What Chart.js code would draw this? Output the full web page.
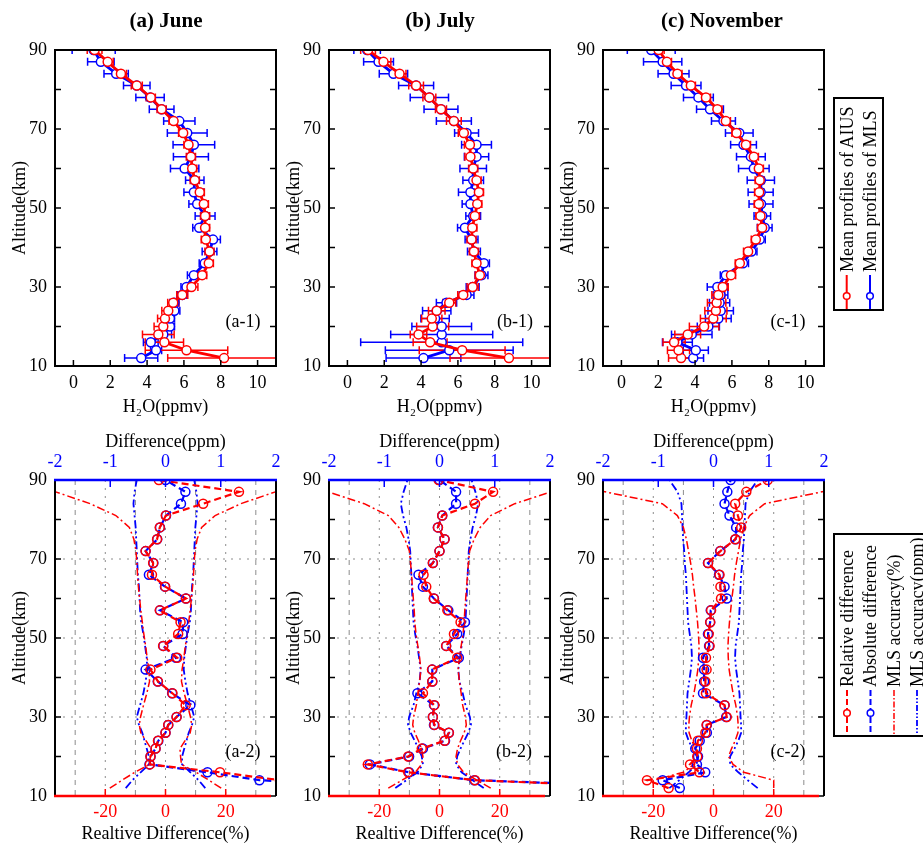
<!DOCTYPE html>
<html>
<head>
<meta charset="utf-8">
<script src="https://cdn.jsdelivr.net/npm/chart.js@4.4.1/dist/chart.umd.min.js"></script>
<style>
html,body{margin:0;padding:0;background:#fff;}
body{width:923px;height:847px;overflow:hidden;position:relative;font-family:'Liberation Serif','Times New Roman',serif;color:#000;}
canvas{position:absolute;}
.ttl{position:absolute;font-weight:bold;font-size:21px;transform:translate(-50%,-50%);white-space:nowrap;}
.plab{position:absolute;font-size:18px;transform:translate(-50%,-50%);white-space:nowrap;}
.rot{position:absolute;font-size:18px;line-height:20px;height:20px;white-space:nowrap;transform:rotate(-90deg);transform-origin:0 0;}
.box{position:absolute;border:2px solid #000;box-sizing:border-box;}
svg{position:absolute;}
</style>
</head>
<body>
<canvas id="a1" width="290" height="430" style="left:0px;top:0px"></canvas>
<canvas id="b1" width="290" height="430" style="left:274px;top:0px"></canvas>
<canvas id="c1" width="290" height="430" style="left:548px;top:0px"></canvas>
<canvas id="a2" width="290" height="427" style="left:0px;top:420px"></canvas>
<canvas id="b2" width="290" height="427" style="left:274px;top:420px"></canvas>
<canvas id="c2" width="290" height="427" style="left:548px;top:420px"></canvas>

<div class="ttl" style="left:166px;top:20px">(a) June</div>
<div class="ttl" style="left:440px;top:20px">(b) July</div>
<div class="ttl" style="left:722px;top:20px">(c) November</div>

<div class="plab" style="left:243px;top:321px">(a-1)</div>
<div class="plab" style="left:515px;top:321px">(b-1)</div>
<div class="plab" style="left:788px;top:321px">(c-1)</div>
<div class="plab" style="left:243px;top:751px">(a-2)</div>
<div class="plab" style="left:514px;top:751px">(b-2)</div>
<div class="plab" style="left:788px;top:751px">(c-2)</div>

<!-- legend 1 -->
<div class="box" style="left:833px;top:97px;width:51px;height:214px"></div>
<div class="rot" style="left:837px;top:272px">Mean profiles of AIUS</div>
<div class="rot" style="left:860px;top:272px">Mean profiles of MLS</div>
<svg style="left:833px;top:272px" width="51" height="38">
  <line x1="13.7" y1="3" x2="13.7" y2="37" stroke="#ff0000" stroke-width="2"/>
  <circle cx="13.7" cy="24" r="3.3" fill="#fff" stroke="#ff0000" stroke-width="1.5"/>
  <line x1="37" y1="3" x2="37" y2="37" stroke="#0000ff" stroke-width="2"/>
  <circle cx="37" cy="24" r="3.3" fill="#fff" stroke="#0000ff" stroke-width="1.5"/>
</svg>

<!-- legend 2 -->
<div class="box" style="left:833px;top:533px;width:110px;height:204px"></div>
<div class="rot" style="left:837px;top:687px">Relative difference</div>
<div class="rot" style="left:860px;top:687px">Absolute difference</div>
<div class="rot" style="left:884px;top:687px">MLS accuracy(%)</div>
<div class="rot" style="left:907px;top:687px">MLS accuracy(ppm)</div>
<svg style="left:833px;top:686px" width="90" height="50">
  <line x1="14" y1="4" x2="14" y2="49" stroke="#ff0000" stroke-width="2" stroke-dasharray="6,3"/>
  <circle cx="14" cy="27" r="3.3" fill="#fff" stroke="#ff0000" stroke-width="1.5"/>
  <line x1="37.5" y1="4" x2="37.5" y2="49" stroke="#0000ff" stroke-width="2" stroke-dasharray="6,3"/>
  <circle cx="37.5" cy="27" r="3.3" fill="#fff" stroke="#0000ff" stroke-width="1.5"/>
  <line x1="61" y1="4" x2="61" y2="49" stroke="#ff0000" stroke-width="1.5" stroke-dasharray="6,2,1.5,2"/>
  <line x1="84" y1="4" x2="84" y2="49" stroke="#0000ff" stroke-width="1.8" stroke-dasharray="6,2,1.5,2,1.5,2"/>
</svg>

<script>
// ---------------- data ----------------
const altitudes = [12,14,16,18,20,22,24,26,28,30,33,36,39,42,45,48,51,54,57,60,63,66,69,72,75,78,81,84,87,90];

const h2oTicks = [0,2,4,6,8,10];
const altTicks = [10,30,50,70,90];
const altMarks = [10,20,30,40,50,60,70,80,90];
const pctTicks = [-20,0,20];
const ppmTicks = [-2,-1,0,1,2];

// (a) June - mean profiles (ppmv)
const aiusJune    = [8.18,6.14,4.94,4.61,4.88,4.97,5.15,5.42,5.91,6.41,6.99,7.35,7.39,7.19,7.15,7.15,7.08,6.86,6.59,6.45,6.38,6.25,5.96,5.44,4.79,4.20,3.44,2.58,1.86,1.15];
const mlsJune     = [3.68,4.49,4.20,4.88,5.24,5.24,5.48,5.48,5.91,6.14,6.54,7.13,7.39,7.58,6.83,7.15,6.72,6.54,6.59,6.04,6.38,6.54,6.18,5.75,4.79,4.16,3.44,2.32,1.49,1.10];
const aiusErrJune = [3.06,2.24,1.04,0.86,0.50,0.40,0.35,0.30,0.30,0.35,0.25,0.25,0.25,0.25,0.25,0.25,0.25,0.25,0.25,0.25,0.25,0.25,0.25,0.25,0.25,0.25,0.30,0.30,0.30,0.40];
const mlsErrJune  = [0.90,0.30,0.40,0.45,0.25,0.25,0.30,0.25,0.25,0.30,0.35,0.30,0.40,0.40,0.35,0.54,0.45,0.54,0.50,0.77,0.95,1.13,1.08,0.85,0.67,0.77,0.72,0.66,0.72,1.17];

// (b) July
const aiusJuly    = [8.77,6.23,4.49,3.86,4.63,4.58,4.85,5.53,6.29,6.80,7.19,7.01,6.87,6.74,6.78,6.92,7.05,7.14,7.01,6.83,6.68,6.65,6.32,5.78,5.08,4.45,3.73,2.83,1.96,1.12];
const mlsJuly     = [4.13,5.53,5.12,5.12,5.12,4.76,4.85,5.38,6.47,6.80,7.28,7.41,6.87,6.74,6.38,6.83,6.68,6.68,6.83,6.83,7.01,7.01,6.47,5.78,5.08,4.45,3.73,2.50,1.69,1.07];
const aiusErrJuly = [3.20,2.33,0.92,0.45,0.87,0.55,0.45,0.35,0.30,0.30,0.25,0.25,0.25,0.25,0.25,0.25,0.25,0.25,0.25,0.25,0.30,0.30,0.30,0.40,0.30,0.35,0.40,0.35,0.40,0.40];
const mlsErrJuly  = [2.03,3.47,4.40,2.77,1.62,0.77,0.77,0.55,0.40,0.35,0.35,0.30,0.35,0.35,0.40,0.40,0.45,0.65,0.56,0.72,0.66,0.81,0.65,0.95,0.92,1.04,0.95,0.77,0.81,0.72];

// (c) November
const aiusNov     = [3.24,3.10,2.86,3.60,4.49,4.99,5.13,5.17,5.26,5.50,5.95,6.43,6.88,7.30,7.64,7.55,7.46,7.48,7.51,7.46,7.19,6.76,6.25,5.67,5.21,4.59,3.77,3.04,2.47,2.02];
const mlsNov      = [3.90,4.04,3.04,3.82,4.72,5.26,5.39,5.33,5.38,5.21,5.67,6.60,7.06,7.51,7.78,7.65,7.58,7.56,7.57,7.19,7.03,6.63,6.40,5.54,4.81,4.18,3.51,2.83,2.24,1.62];
const aiusErrNov  = [0.68,0.60,0.60,0.70,0.80,0.70,0.60,0.50,0.35,0.30,0.25,0.25,0.25,0.25,0.25,0.25,0.25,0.25,0.25,0.25,0.25,0.25,0.25,0.25,0.25,0.25,0.25,0.25,0.25,0.30];
const mlsErrNov   = [0.56,0.68,0.81,1.10,0.60,0.70,0.69,0.55,0.40,0.55,0.30,0.30,0.30,0.30,0.40,0.45,0.65,0.68,0.74,0.83,0.78,0.70,0.75,0.65,0.73,0.81,0.81,0.84,1.04,1.30];

// differences: relative (%) and absolute (ppm)
const relJune = [120,38,18.1,-5.2,-5.0,-3.3,-2.5,0.0,0.9,3.7,6.7,2.3,-2.5,-5.0,3.9,-0.8,4.2,5.0,-1.9,6.8,-0.1,-4.5,-4.1,-6.6,-2.8,-1.9,0.1,12.5,24.4,-2.2];
const absJune = [4.5,1.7,0.76,-0.29,-0.27,-0.18,-0.13,0.0,0.05,0.2,0.45,0.12,-0.14,-0.36,0.19,-0.04,0.31,0.32,-0.1,0.37,-0.01,-0.3,-0.22,-0.36,-0.15,-0.1,0.01,0.28,0.36,0.0];
const relJuly = [76,11.8,-10.4,-23.8,-10.4,-5.9,1.7,3.1,-1.7,-2.2,-1.7,-5.5,-2.4,-2.5,5.9,2.2,4.8,7.0,2.6,-1.9,-4.4,-5.3,-2.2,0.0,1.7,-0.5,0.9,11.8,17.8,-0.3];
const absJuly = [4.6,0.63,-0.55,-1.26,-0.55,-0.3,0.1,0.17,-0.1,-0.12,-0.1,-0.4,-0.13,-0.13,0.35,0.12,0.32,0.46,0.16,-0.1,-0.3,-0.38,-0.12,0.0,0.09,-0.03,0.05,0.3,0.3,0.0];
const relNov  = [-14.9,-22.1,-4.7,-7.8,-5.4,-5.5,-5.2,-2.7,-2.3,4.4,3.7,-2.5,-2.7,-2.3,-2.5,-1.3,-1.6,-1.1,-0.8,2.5,2.3,2.0,-1.8,2.3,7.2,9.2,8.1,7.2,10.9,18];
const absNov  = [-0.61,-0.92,-0.15,-0.3,-0.28,-0.33,-0.25,-0.12,-0.12,0.23,0.2,-0.19,-0.17,-0.17,-0.19,-0.08,-0.1,-0.06,-0.05,0.24,0.2,0.1,-0.1,0.12,0.4,0.41,0.29,0.2,0.25,0.31];

// MLS accuracy (%) and (ppm)
const accPctJune = [18.5,14.4,10.2,5.3,5.0,4.8,6.5,8.2,8.7,8.3,7.3,6.2,5.3,5.5,6.1,6.6,7.2,7.7,8.2,8.6,9.0,9.3,9.5,9.8,10.5,12,16.5,25,36.5,55];
const accPpmJune = [0.72,0.6,0.45,0.3,0.3,0.34,0.38,0.42,0.48,0.52,0.46,0.4,0.36,0.33,0.34,0.37,0.4,0.44,0.46,0.47,0.48,0.5,0.51,0.52,0.53,0.54,0.56,0.58,0.56,0.52];
const accPctJuly = [17,12.5,8,6,5.5,6,7,8.2,8.9,8.6,7.7,7.2,6.6,6.2,6.6,7.2,7.8,8.2,8.4,8.7,9.0,9.3,9.6,10,11.5,13.5,17,25,37,55];
const accPpmJuly = [0.8,0.6,0.4,0.3,0.32,0.38,0.45,0.52,0.57,0.55,0.47,0.42,0.36,0.34,0.37,0.4,0.44,0.47,0.48,0.49,0.5,0.51,0.52,0.53,0.56,0.6,0.66,0.7,0.65,0.58];
const accPctNov  = [20,20,10,6.5,5,6,7.2,8.1,8.2,8,7.4,6.5,5.8,5.2,4.9,4.8,5,5.3,5.7,6.1,6.6,7,7.6,8.3,9,10,12,17,36,55];
const accPpmNov  = [0.8,0.62,0.45,0.3,0.3,0.38,0.45,0.5,0.5,0.49,0.48,0.47,0.44,0.41,0.39,0.4,0.43,0.46,0.47,0.48,0.49,0.5,0.52,0.53,0.55,0.56,0.57,0.58,0.65,0.8];

// ---------------- drawing ----------------
const RED = '#ff0000', BLUE = '#0000ff', GRID = '#8c8c8c';
Chart.defaults.font.family = "'Liberation Serif','Times New Roman',serif";
Chart.defaults.color = '#000';

const pts = (vals, sign = 1) => vals.map((v, i) => ({x: sign * v, y: altitudes[i]}));
const noGrid = {display: false, drawTicks: false, tickLength: 0};

function topPlugin(errSets) {
  return {
    id: 'topFrame',
    beforeDatasetsDraw(chart) {
      const {ctx, chartArea: a, scales: {x, y}} = chart;
      ctx.save();
      ctx.beginPath(); ctx.rect(a.left, a.top, a.right - a.left, a.bottom - a.top); ctx.clip();
      ctx.lineWidth = 1.5;
      errSets.forEach(s => {
        ctx.strokeStyle = s.color;
        s.vals.forEach((v, i) => {
          const py = y.getPixelForValue(altitudes[i]);
          const x1 = x.getPixelForValue(v - s.errs[i]);
          const x2 = x.getPixelForValue(v + s.errs[i]);
          ctx.beginPath();
          ctx.moveTo(x1, py); ctx.lineTo(x2, py);
          ctx.moveTo(x1, py - 4); ctx.lineTo(x1, py + 4);
          ctx.moveTo(x2, py - 4); ctx.lineTo(x2, py + 4);
          ctx.stroke();
        });
      });
      ctx.restore();
    },
    afterDraw(chart) {
      const {ctx, chartArea: a, scales: {x, y}} = chart;
      ctx.save();
      ctx.strokeStyle = '#000'; ctx.lineWidth = 1.5;
      ctx.beginPath();
      h2oTicks.forEach(v => { const px = x.getPixelForValue(v); ctx.moveTo(px, a.bottom); ctx.lineTo(px, a.bottom - 6); });
      altMarks.forEach(v => { const py = y.getPixelForValue(v);
        ctx.moveTo(a.left, py); ctx.lineTo(a.left + 6, py);
        ctx.moveTo(a.right, py); ctx.lineTo(a.right - 6, py); });
      ctx.stroke();
      ctx.lineWidth = 2;
      ctx.strokeRect(a.left, a.top, a.right - a.left, a.bottom - a.top);
      ctx.restore();
    }
  };
}

function bottomPlugin() {
  return {
    id: 'bottomFrame',
    beforeDatasetsDraw(chart) {
      const {ctx, chartArea: a, scales: {x, x2, y}} = chart;
      ctx.save();
      ctx.beginPath(); ctx.rect(a.left, a.top, a.right - a.left, a.bottom - a.top); ctx.clip();
      ctx.strokeStyle = GRID; ctx.lineWidth = 1;
      ctx.setLineDash([5, 5]);
      ctx.beginPath();
      [-30, -10, 10, 30].forEach(v => { const px = x.getPixelForValue(v); ctx.moveTo(px, a.top); ctx.lineTo(px, a.bottom); });
      ctx.stroke();
      ctx.setLineDash([2, 6]);
      ctx.beginPath();
      pctTicks.forEach(v => { const px = x.getPixelForValue(v); ctx.moveTo(px, a.top); ctx.lineTo(px, a.bottom); });
      [30, 50, 70].forEach(v => { const py = y.getPixelForValue(v); ctx.moveTo(a.left, py); ctx.lineTo(a.right, py); });
      ctx.stroke();
      ctx.restore();
    },
    afterDraw(chart) {
      const {ctx, chartArea: a, scales: {x, x2, y}} = chart;
      ctx.save();
      ctx.lineWidth = 1.5;
      ctx.strokeStyle = '#000';
      ctx.beginPath();
      altMarks.forEach(v => { const py = y.getPixelForValue(v);
        ctx.moveTo(a.left, py); ctx.lineTo(a.left + 6, py);
        ctx.moveTo(a.right, py); ctx.lineTo(a.right - 6, py); });
      ctx.stroke();
      ctx.strokeStyle = BLUE;
      ctx.beginPath();
      [-1, 0, 1].forEach(v => { const px = x2.getPixelForValue(v); ctx.moveTo(px, a.top); ctx.lineTo(px, a.top + 7); });
      ctx.stroke();
      ctx.strokeStyle = RED;
      ctx.beginPath();
      pctTicks.forEach(v => { const px = x.getPixelForValue(v); ctx.moveTo(px, a.bottom); ctx.lineTo(px, a.bottom - 7); });
      ctx.stroke();
      ctx.lineWidth = 2;
      ctx.strokeStyle = '#000';
      ctx.beginPath();
      ctx.moveTo(a.left, a.top); ctx.lineTo(a.left, a.bottom);
      ctx.moveTo(a.right, a.top); ctx.lineTo(a.right, a.bottom);
      ctx.stroke();
      ctx.lineWidth = 2.5;
      ctx.strokeStyle = BLUE;
      ctx.beginPath(); ctx.moveTo(a.left - 1, a.top); ctx.lineTo(a.right + 1, a.top); ctx.stroke();
      ctx.strokeStyle = RED;
      ctx.beginPath(); ctx.moveTo(a.left - 1, a.bottom); ctx.lineTo(a.right - 5, a.bottom); ctx.stroke();
      ctx.restore();
    }
  };
}

const yScale = () => ({
  type: 'linear', position: 'left', min: 10, max: 90,
  afterBuildTicks: s => { s.ticks = altTicks.map(v => ({value: v})); },
  afterFit: s => { s.width = 55; },
  grid: noGrid, border: {display: false},
  ticks: {color: '#000', font: {size: 18}, padding: 8, autoSkip: false},
  title: {display: true, text: 'Altitude(km)', color: '#000', font: {size: 18}, padding: {top: 9, bottom: 0}}
});

function topChart(id, aius, mls, aiusErr, mlsErr) {
  new Chart(document.getElementById(id), {
    type: 'scatter',
    data: {datasets: [
      {label: 'Mean profiles of AIUS', data: pts(aius), showLine: true, borderColor: RED, borderWidth: 2.8,
       pointRadius: 4.5, pointBorderWidth: 1.5, pointBackgroundColor: '#fff', pointBorderColor: RED, order: 0},
      {label: 'Mean profiles of MLS', data: pts(mls), showLine: true, borderColor: BLUE, borderWidth: 2.8,
       pointRadius: 4.5, pointBorderWidth: 1.5, pointBackgroundColor: '#fff', pointBorderColor: BLUE, order: 1}
    ]},
    options: {
      responsive: false, animation: false, events: [],
      layout: {padding: {left: 0, top: 50, right: 14, bottom: 12}},
      plugins: {legend: {display: false}, tooltip: {enabled: false}},
      scales: {
        x: {type: 'linear', position: 'bottom', min: -1, max: 11,
            afterBuildTicks: s => { s.ticks = h2oTicks.map(v => ({value: v})); },
            afterFit: s => { s.height = 52; },
            grid: noGrid, border: {display: false},
            ticks: {color: '#000', font: {size: 18}, padding: 6, autoSkip: false, maxRotation: 0},
            title: {display: true, text: 'H\u2082O(ppmv)', color: '#000', font: {size: 18}, padding: {top: 0, bottom: 0}}},
        y: yScale()
      }
    },
    plugins: [topPlugin([
      {vals: mls, errs: mlsErr, color: BLUE},
      {vals: aius, errs: aiusErr, color: RED}
    ])]
  });
}

function bottomChart(id, rel, abs, accPct, accPpm) {
  const accStyle = (color, dash, w) => ({showLine: true, borderColor: color, borderWidth: w, borderDash: dash, pointRadius: 0, order: 3});
  new Chart(document.getElementById(id), {
    type: 'scatter',
    data: {datasets: [
      Object.assign({label: 'MLS accuracy(%)', data: pts(accPct), xAxisID: 'x'}, accStyle(RED, [8, 3, 2, 3], 1.5)),
      Object.assign({label: 'MLS accuracy(%) -', data: pts(accPct, -1), xAxisID: 'x'}, accStyle(RED, [8, 3, 2, 3], 1.5)),
      Object.assign({label: 'MLS accuracy(ppm)', data: pts(accPpm), xAxisID: 'x2'}, accStyle(BLUE, [8, 3, 2, 3, 2, 3], 1.8)),
      Object.assign({label: 'MLS accuracy(ppm) -', data: pts(accPpm, -1), xAxisID: 'x2'}, accStyle(BLUE, [8, 3, 2, 3, 2, 3], 1.8)),
      {label: 'Absolute difference', data: pts(abs), xAxisID: 'x2', showLine: true, borderColor: BLUE, borderWidth: 2.2,
       borderDash: [7, 4], pointRadius: 4.5, pointBorderWidth: 1.5, pointBackgroundColor: 'rgba(255,255,255,0)', pointBorderColor: BLUE, order: 1},
      {label: 'Relative difference', data: pts(rel), xAxisID: 'x', showLine: true, borderColor: RED, borderWidth: 2.2,
       borderDash: [7, 4], pointRadius: 4.5, pointBorderWidth: 1.5, pointBackgroundColor: 'rgba(255,255,255,0)', pointBorderColor: RED, order: 0}
    ]},
    options: {
      responsive: false, animation: false, events: [],
      layout: {padding: {left: 0, top: 0, right: 14, bottom: 0}},
      plugins: {legend: {display: false}, tooltip: {enabled: false}},
      scales: {
        x: {type: 'linear', position: 'bottom', min: -36.7, max: 36.7,
            afterBuildTicks: s => { s.ticks = pctTicks.map(v => ({value: v})); },
            afterFit: s => { s.height = 51; },
            grid: noGrid, border: {display: false},
            ticks: {color: RED, font: {size: 18}, padding: 5, autoSkip: false, maxRotation: 0},
            title: {display: true, text: 'Realtive Difference(%)', color: '#000', font: {size: 18}, padding: {top: 0, bottom: 2}}},
        x2: {type: 'linear', position: 'top', min: -2, max: 2,
            afterBuildTicks: s => { s.ticks = ppmTicks.map(v => ({value: v})); },
            afterFit: s => { s.height = 60; },
            grid: noGrid, border: {display: false},
            ticks: {color: BLUE, font: {size: 18}, padding: 7, autoSkip: false, maxRotation: 0},
            title: {display: true, text: 'Difference(ppm)', color: '#000', font: {size: 18}, padding: {top: 11, bottom: 0}}},
        y: yScale()
      }
    },
    plugins: [bottomPlugin()]
  });
}

topChart('a1', aiusJune, mlsJune, aiusErrJune, mlsErrJune);
topChart('b1', aiusJuly, mlsJuly, aiusErrJuly, mlsErrJuly);
topChart('c1', aiusNov, mlsNov, aiusErrNov, mlsErrNov);
bottomChart('a2', relJune, absJune, accPctJune, accPpmJune);
bottomChart('b2', relJuly, absJuly, accPctJuly, accPpmJuly);
bottomChart('c2', relNov, absNov, accPctNov, accPpmNov);
</script>
</body>
</html>
